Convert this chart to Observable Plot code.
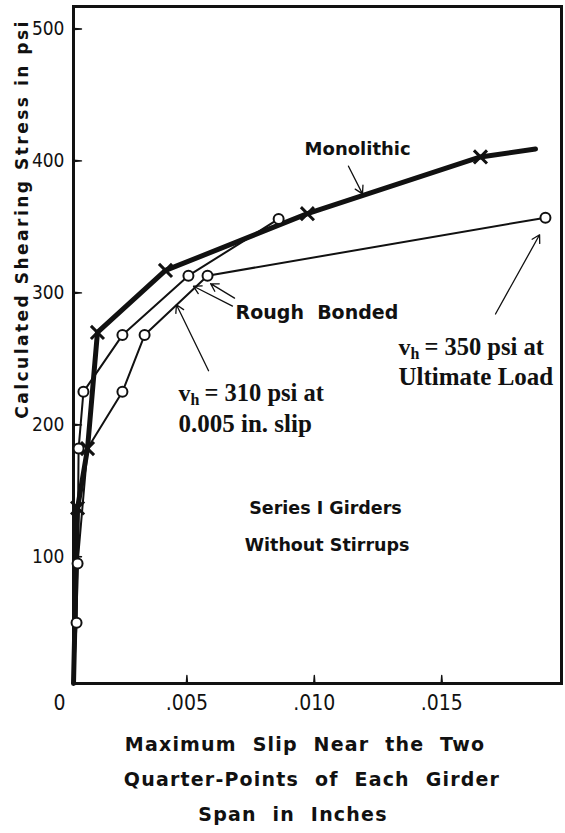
<!DOCTYPE html>
<html><head><meta charset="utf-8">
<script src="https://cdn.jsdelivr.net/npm/d3@7"></script>
<script src="https://cdn.jsdelivr.net/npm/@observablehq/plot@0.6"></script>
<style>
body{margin:0;background:#fff;width:565px;overflow:hidden}
#chart svg{display:block}
#cap{font-family:"DejaVu Sans",sans-serif;font-weight:bold;font-size:19px;letter-spacing:1.2px;word-spacing:8px;text-align:center;line-height:35px;margin-top:5px;color:#111}
#cap div{height:35px}
</style></head><body>
<div id="chart"></div>
<div id="cap">
  <div style="padding-left:45px">Maximum Slip Near the Two</div>
  <div style="padding-left:59px">Quarter-Points of Each Girder</div>
  <div style="padding-left:21px">Span in Inches</div>
</div>
<script>
// slip in inches, stress in psi
const monoSlip   = [0.00055, 0.00071, 0.00110, 0.00149, 0.00416, 0.00973, 0.01652, 0.01868];
const monoStress = [4, 137, 182, 270, 317, 360, 403, 409];
const monoMarked = [false, true, true, true, true, true, true, false];

const rb1Slip   = [0.00055, 0.00067, 0.00071, 0.00075, 0.00094, 0.00247, 0.00506, 0.00860];
const rb1Stress = [4, 50, 95, 182, 225, 268, 313, 356];

const rb2Slip   = [0.00055, 0.00071, 0.00110, 0.00247, 0.00334, 0.00581, 0.01907];
const rb2Stress = [4, 95, 182, 225, 268, 313, 357];

const xTicks = [0, 0.005, 0.010, 0.015];
const yTicks = [100, 200, 300, 400, 500];

const xDomain = [0.00055, 0.0197];
const yDomain = [4, 517];

const mono = monoSlip.map((x, i) => ({x, y: monoStress[i], m: monoMarked[i]}));
const rb1 = rb1Slip.map((x, i) => ({x, y: rb1Stress[i]}));
const rb2 = rb2Slip.map((x, i) => ({x, y: rb2Stress[i]}));

const arrows = [
  {x1: 0.00585, y1: 241, x2: 0.00459, y2: 291},
  {x1: 0.01711, y1: 284, x2: 0.01884, y2: 344},
  {x1: 0.01134, y1: 396, x2: 0.01189, y2: 375},
  {x1: 0.00679, y1: 290, x2: 0.00526, y2: 305},
  {x1: 0.00687, y1: 296, x2: 0.00593, y2: 307}
];

const sans = "DejaVu Sans, sans-serif";
const serif = "Liberation Serif, Times New Roman, serif";
const tickFont = "DejaVu Sans Condensed, Liberation Sans Narrow, sans-serif";
const yTitle = "Calculated Shearing Stress in psi";

const plot = Plot.plot({
  width: 565, height: 722,
  marginLeft: 73, marginRight: 4, marginTop: 6, marginBottom: 39,
  x: {domain: xDomain},
  y: {domain: yDomain},
  style: {background: "#fff", color: "#111"},
  marks: [
    Plot.frame({stroke: "#111", strokeWidth: 3}),
    Plot.axisY(yTicks, {anchor: "left", tickSize: 0, tickPadding: 9, fontSize: 19, fontFamily: tickFont, label: null}),
    Plot.axisX(xTicks, {anchor: "bottom", tickSize: 0, tickPadding: 12, fontSize: 21, fontFamily: tickFont, label: null,
      tickFormat: d => d === 0 ? "0" : d3.format(".3f")(d).replace(/^0/, "")}),
    Plot.vector(yTicks, {x: xDomain[0], y: d => d, length: 8, rotate: 90, anchor: "start", shape: "spike", r: 0.6, fill: "#111", stroke: "#111", strokeWidth: 1.4}),
    Plot.vector(xTicks.slice(1), {x: d => d, y: yDomain[0], length: 8, rotate: 0, anchor: "start", shape: "spike", r: 0.6, fill: "#111", stroke: "#111", strokeWidth: 1.4}),
    Plot.text([yTitle], {frameAnchor: "left", y: 356, dx: -51, rotate: -90, textAnchor: "middle", fontSize: 17, fontWeight: "bold", fontFamily: sans}),
    Plot.line(rb1, {x: "x", y: "y", stroke: "#111", strokeWidth: 2}),
    Plot.line(rb2, {x: "x", y: "y", stroke: "#111", strokeWidth: 2}),
    Plot.line(mono, {x: "x", y: "y", stroke: "#111", strokeWidth: 5, strokeLinecap: "round"}),
    Plot.dot(mono.filter(d => d.m), {x: "x", y: "y", symbol: "times", r: 6, stroke: "#111", strokeWidth: 3}),
    Plot.dot(rb1.slice(1), {x: "x", y: "y", r: 5, fill: "#fff", stroke: "#111", strokeWidth: 2}),
    Plot.dot(rb2.slice(3), {x: "x", y: "y", r: 5, fill: "#fff", stroke: "#111", strokeWidth: 2}),
    Plot.arrow(arrows, {x1: "x1", y1: "y1", x2: "x2", y2: "y2", stroke: "#111", strokeWidth: 1.3, headLength: 10}),
    Plot.text(["Monolithic"], {x: 0.0117, y: 409, fontSize: 18, fontWeight: "bold", fontFamily: sans}),
    Plot.text(["Rough  Bonded"], {x: 0.00691, y: 285, textAnchor: "start", fontSize: 19, fontWeight: "bold", fontFamily: sans}),
    Plot.text(["Series I Girders"], {x: 0.01044, y: 137, fontSize: 17.5, fontWeight: "bold", fontFamily: sans}),
    Plot.text(["Without Stirrups"], {x: 0.01050, y: 109, fontSize: 17.5, fontWeight: "bold", fontFamily: sans}),
    Plot.text(["v"], {x: 0.00467, y: 224, textAnchor: "start", fontSize: 24, fontWeight: "bold", fontFamily: serif}),
    Plot.text(["h"], {x: 0.00467, y: 224, dx: 12, dy: 7, textAnchor: "start", fontSize: 16, fontWeight: "bold", fontFamily: serif}),
    Plot.text(["= 310 psi at"], {x: 0.00467, y: 224, dx: 26, textAnchor: "start", fontSize: 24.5, fontWeight: "bold", fontFamily: serif}),
    Plot.text(["0.005 in. slip"], {x: 0.00467, y: 201, textAnchor: "start", fontSize: 25, fontWeight: "bold", fontFamily: serif}),
    Plot.text(["v"], {x: 0.0133, y: 259, textAnchor: "start", fontSize: 24, fontWeight: "bold", fontFamily: serif}),
    Plot.text(["h"], {x: 0.0133, y: 259, dx: 12, dy: 7, textAnchor: "start", fontSize: 16, fontWeight: "bold", fontFamily: serif}),
    Plot.text(["= 350 psi at"], {x: 0.0133, y: 259, dx: 26, textAnchor: "start", fontSize: 24.5, fontWeight: "bold", fontFamily: serif}),
    Plot.text(["Ultimate Load"], {x: 0.0133, y: 236, textAnchor: "start", fontSize: 25, fontWeight: "bold", fontFamily: serif})
  ]
});
d3.select(plot).selectAll("text")
  .filter(function() { return this.textContent === yTitle; })
  .attr("letter-spacing", 2.5);
document.getElementById("chart").appendChild(plot);
</script>
</body></html>
